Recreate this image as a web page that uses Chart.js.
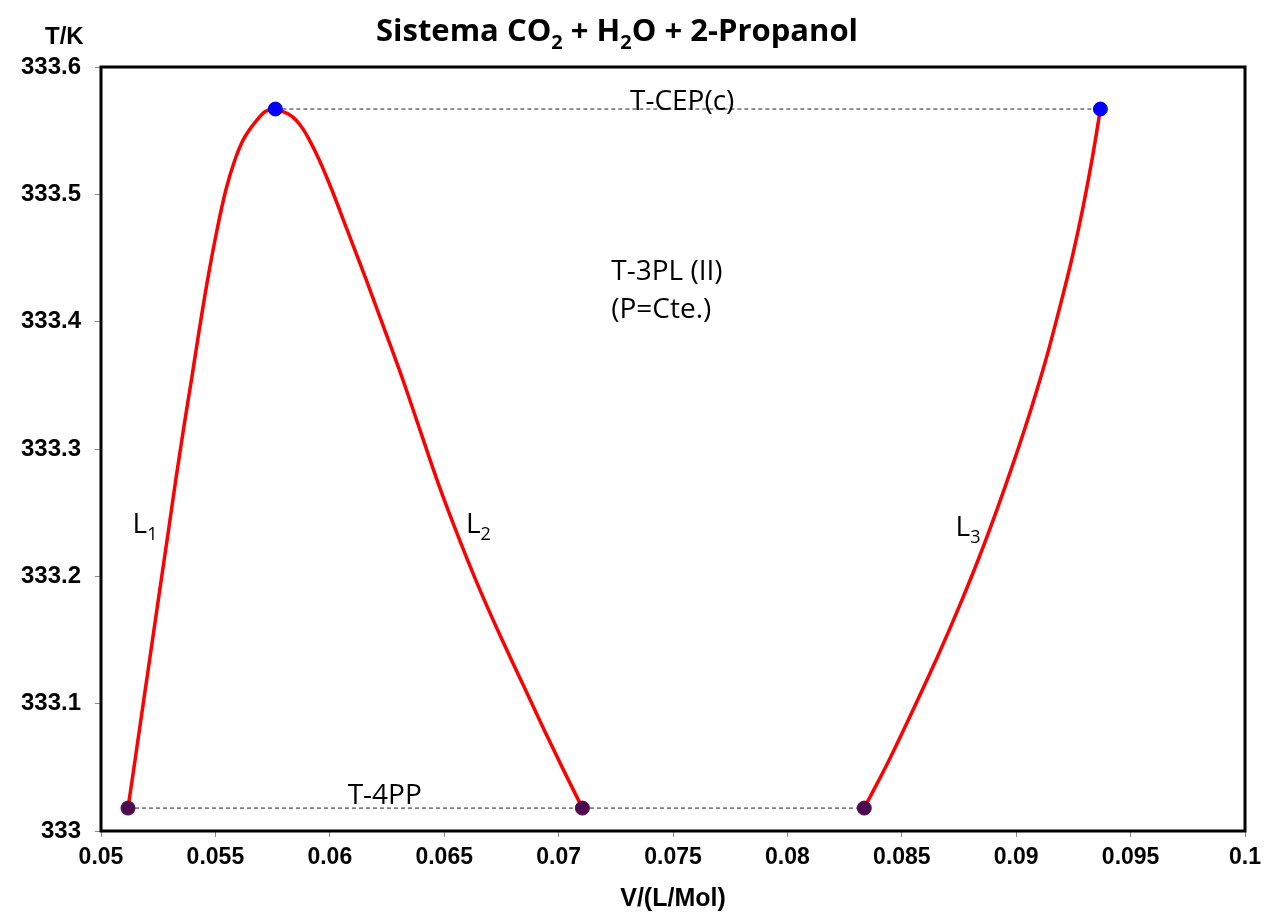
<!DOCTYPE html>
<html>
<head>
<meta charset="utf-8">
<script src="https://cdn.jsdelivr.net/npm/chart.js@4.4.1/dist/chart.umd.min.js"></script>
<style>
  html, body { margin: 0; padding: 0; background: #fff; }
  #wrap { width: 1268px; height: 914px; }
</style>
</head>
<body>
<div id="wrap"><canvas id="tChart"></canvas></div>
<script>
// L1 branch
const l1V = [0.05118, 0.05149, 0.05187, 0.05225, 0.05263, 0.05295, 0.05327, 0.05360, 0.05395, 0.05429, 0.05466, 0.05507, 0.05545, 0.05585, 0.05622, 0.05680, 0.05718, 0.05762];
const l1T = [333.018, 333.056, 333.103, 333.150, 333.197, 333.236, 333.276, 333.315, 333.354, 333.393, 333.433, 333.472, 333.503, 333.527, 333.543, 333.558, 333.565, 333.567];
// L2 branch
const l2V = [0.05762, 0.05819, 0.05854, 0.05884, 0.05910, 0.05954, 0.06010, 0.06076, 0.06159, 0.06241, 0.06320, 0.06394, 0.06468, 0.06551, 0.06638, 0.06733, 0.06834, 0.06938, 0.07021, 0.07104];
const l2T = [333.567, 333.563, 333.558, 333.551, 333.543, 333.527, 333.503, 333.472, 333.433, 333.393, 333.354, 333.315, 333.276, 333.236, 333.197, 333.158, 333.119, 333.079, 333.048, 333.018];
// L3 branch
const l3V = [0.08336, 0.08448, 0.08554, 0.08654, 0.08748, 0.08836, 0.08919, 0.08995, 0.09066, 0.09131, 0.09190, 0.09244, 0.09291, 0.09333, 0.09368];
const l3T = [333.018, 333.057, 333.097, 333.136, 333.175, 333.214, 333.254, 333.293, 333.332, 333.371, 333.411, 333.450, 333.489, 333.529, 333.567];
// four-phase points (T-4PP) and critical end points (T-CEP)
const fourPPV = [0.05118, 0.07104, 0.08336];
const fourPPT = 333.018;
const cepV = [0.05762, 0.09368];
const cepT = 333.567;

const xTicks = [0.05, 0.055, 0.06, 0.065, 0.07, 0.075, 0.08, 0.085, 0.09, 0.095, 0.1];
const yTicks = [333, 333.1, 333.2, 333.3, 333.4, 333.5, 333.6];

function pts(xs, ys) {
  return xs.map((x, i) => ({ x: x, y: Array.isArray(ys) ? ys[i] : ys }));
}

const red = '#ff0000';

// draw text with subscript parts: parts = [[text, isSub], ...]
function drawRich(ctx, parts, x, y, size, weight, family, align) {
  const subSize = Math.round(size * 0.66);
  let total = 0;
  parts.forEach(p => {
    ctx.font = weight + ' ' + (p[1] ? subSize : size) + 'px ' + family;
    total += ctx.measureText(p[0]).width;
  });
  let cx = align === 'center' ? x - total / 2 : x;
  ctx.textAlign = 'left';
  ctx.textBaseline = 'alphabetic';
  parts.forEach(p => {
    ctx.font = weight + ' ' + (p[1] ? subSize : size) + 'px ' + family;
    ctx.fillText(p[0], cx, p[1] ? y + size * 0.25 : y);
    cx += ctx.measureText(p[0]).width;
  });
}

const decor = {
  id: 'decor',
  afterDraw(chart) {
    const ctx = chart.ctx;
    const a = chart.chartArea;
    const xs = chart.scales.x, ys = chart.scales.y;
    ctx.save();
    // frame
    ctx.strokeStyle = '#000';
    ctx.lineWidth = 3;
    ctx.strokeRect(a.left, a.top, a.right - a.left, a.bottom - a.top);

    ctx.fillStyle = '#000';
    const fam = '"Open Sans", "Noto Sans", sans-serif';
    // title
    drawRich(ctx, [['Sistema CO', false], ['2', true], [' + H', false], ['2', true], ['O + 2-Propanol', false]],
      617, 41, 31, 'bold', fam, 'center');
    // axis name T/K
    ctx.font = 'bold 24px "Liberation Sans", Arial, sans-serif';
    ctx.textAlign = 'left';
    ctx.fillText('T/K', 45, 44);

    // annotations
    ctx.font = '28px ' + fam;
    ctx.textAlign = 'center';
    ctx.fillText('T-CEP(c)', xs.getPixelForValue(0.0754), ys.getPixelForValue(cepT) + 1);
    ctx.fillText('T-4PP', xs.getPixelForValue(0.0624), ys.getPixelForValue(fourPPT) - 4);
    ctx.textAlign = 'left';
    ctx.fillText('T-3PL (II)', xs.getPixelForValue(0.0723), ys.getPixelForValue(333.433));
    ctx.fillText('(P=Cte.)', xs.getPixelForValue(0.0723), ys.getPixelForValue(333.403));
    drawRich(ctx, [['L', false], ['1', true]], xs.getPixelForValue(0.05138), ys.getPixelForValue(333.234), 28, 'normal', fam, 'left');
    drawRich(ctx, [['L', false], ['2', true]], xs.getPixelForValue(0.06595), ys.getPixelForValue(333.234), 28, 'normal', fam, 'left');
    drawRich(ctx, [['L', false], ['3', true]], xs.getPixelForValue(0.08735), ys.getPixelForValue(333.232), 28, 'normal', fam, 'left');
    ctx.restore();
  }
};

new Chart('tChart', {
  type: 'scatter',
  data: {
    datasets: [
      { data: pts(cepV, cepT), showLine: false, pointRadius: 7, pointBackgroundColor: '#0000ff', pointBorderColor: '#0000ee', order: 0 },
      { data: pts(fourPPV, fourPPT), showLine: false, pointRadius: 7, pointBackgroundColor: '#4e0a50', pointBorderColor: '#4e0a50', order: 0 },
      { data: pts(l1V, l1T), showLine: true, borderColor: red, borderWidth: 3.5, pointRadius: 0, cubicInterpolationMode: 'monotone', order: 1 },
      { data: pts(l2V, l2T), showLine: true, borderColor: red, borderWidth: 3.5, pointRadius: 0, cubicInterpolationMode: 'monotone', order: 1 },
      { data: pts(l3V, l3T), showLine: true, borderColor: red, borderWidth: 3.5, pointRadius: 0, cubicInterpolationMode: 'monotone', order: 1 },
      { data: pts([cepV[0], cepV[1]], cepT), showLine: true, borderColor: '#222', borderWidth: 1, borderDash: [4, 3], pointRadius: 0, order: 2 },
      { data: pts([fourPPV[0], fourPPV[2]], fourPPT), showLine: true, borderColor: '#222', borderWidth: 1, borderDash: [4, 3], pointRadius: 0, order: 2 }
    ]
  },
  options: {
    responsive: true,
    maintainAspectRatio: false,
    animation: false,
    layout: { padding: { top: 67, right: 19, left: 0, bottom: 0 } },
    plugins: { legend: { display: false }, tooltip: { enabled: false } },
    scales: {
      x: {
        type: 'linear', min: 0.05, max: 0.1,
        afterBuildTicks: s => { s.ticks = xTicks.map(v => ({ value: v })); },
        afterFit: s => { s.height = 83; },
        grid: { drawOnChartArea: false, drawTicks: true, tickLength: 6, color: '#888' },
        border: { display: false },
        ticks: {
          color: '#000', padding: 7,
          font: { family: '"Liberation Sans", Arial, sans-serif', size: 23, weight: 'bold' },
          callback: v => String(+v.toFixed(3))
        },
        title: {
          display: true, text: 'V/(L/Mol)', color: '#000', padding: { top: 0, bottom: 0 },
          font: { family: '"Liberation Sans", Arial, sans-serif', size: 25, weight: 'bold' }
        }
      },
      y: {
        type: 'linear', min: 333, max: 333.6,
        afterBuildTicks: s => { s.ticks = yTicks.map(v => ({ value: v })); },
        afterFit: s => { s.width = 101; },
        grid: { drawOnChartArea: false, drawTicks: true, tickLength: 6, color: '#888' },
        border: { display: false },
        ticks: {
          color: '#000', padding: 14,
          font: { family: '"Liberation Sans", Arial, sans-serif', size: 24, weight: 'bold' },
          callback: v => String(+v.toFixed(1))
        }
      }
    }
  },
  plugins: [decor]
});
</script>
</body>
</html>
